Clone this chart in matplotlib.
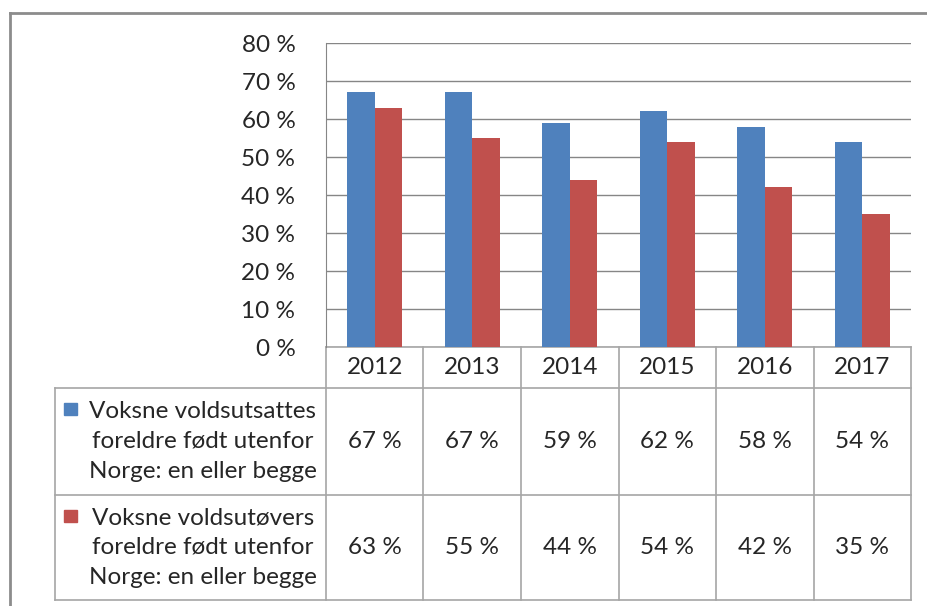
import matplotlib.pyplot as plt
import matplotlib.transforms as mtransforms
from matplotlib.patches import Rectangle

years = ["2012", "2013", "2014", "2015", "2016", "2017"]
utsatte = [67, 67, 59, 62, 58, 54]
utovere = [63, 55, 44, 54, 42, 35]
labels = ["Voksne voldsutsattes\nforeldre født utenfor\nNorge: en eller begge",
          "Voksne voldsutøvers\nforeldre født utenfor\nNorge: en eller begge"]
colors = ["#4F81BD", "#C0504D"]
yticks = [0, 10, 20, 30, 40, 50, 60, 70, 80]

plt.rcParams['font.family'] = ['Lato', 'DejaVu Sans']
txt = "#262626"
gridc = "#868686"
tabc = "#A6A6A6"
fs = 17.5

W, H = 928, 606
fig = plt.figure(figsize=(W / 100, H / 100), dpi=100)

# outer frame (cropped on right and bottom)
fig.add_artist(plt.Line2D([10 / W, 1], [1 - 13 / H, 1 - 13 / H], color="#8C8C8C", lw=2))
fig.add_artist(plt.Line2D([10 / W, 10 / W], [0, 1 - 13 / H], color="#8C8C8C", lw=2))

x0, x1, ytop, ybot = 326, 911, 43, 347
ax = fig.add_axes([x0 / W, 1 - ybot / H, (x1 - x0) / W, (ybot - ytop) / H])
ax.set_xlim(-0.5, len(years) - 0.5)
ax.set_ylim(0, 80)

bw = 0.28
xs = list(range(len(years)))
ax.bar([x - bw / 2 for x in xs], utsatte, bw, color=colors[0], zorder=3)
ax.bar([x + bw / 2 for x in xs], utovere, bw, color=colors[1], zorder=3)

ax.set_yticks(yticks)
ax.set_yticklabels([f"{v} %" for v in yticks], fontsize=fs, color=txt)
ax.tick_params(axis="y", length=0, pad=22)
ax.set_xticks([])
ax.yaxis.grid(True, color=gridc, lw=1, zorder=0)
for s in ["top", "right", "bottom"]:
    ax.spines[s].set_visible(False)
ax.spines["left"].set_color(gridc)

# data table below the axes: x in data units, y in axes fraction
ph = ybot - ytop
tr = mtransforms.blended_transform_factory(ax.transData, ax.transAxes)
r_head = -41 / ph
r_one = -148 / ph
r_two = -253 / ph
unit = (x1 - x0) / len(years)
xleft = -0.5 - (x0 - 55) / unit

def hline(y, xa, xb):
    ax.plot([xa, xb], [y, y], color=tabc, lw=1.2, transform=tr, clip_on=False)

def vline(x, ya, yb):
    ax.plot([x, x], [ya, yb], color=tabc, lw=1.2, transform=tr, clip_on=False)

hline(0, -0.5, len(years) - 0.5)
hline(r_head, xleft, len(years) - 0.5)
hline(r_one, xleft, len(years) - 0.5)
hline(r_two, xleft, len(years) - 0.5)
for i in range(len(years) + 1):
    vline(i - 0.5, 0, r_two)
vline(xleft, r_head, r_two)

for i, y in enumerate(years):
    ax.text(i, r_head / 2, y, ha="center", va="center", fontsize=fs, color=txt,
            transform=tr)
    ax.text(i, (r_head + r_one) / 2, f"{utsatte[i]} %", ha="center", va="center",
            fontsize=fs, color=txt, transform=tr)
    ax.text(i, (r_one + r_two) / 2, f"{utovere[i]} %", ha="center", va="center",
            fontsize=fs, color=txt, transform=tr)

lab_x = -0.5 - (x0 - 203) / unit
for k, (top, bot) in enumerate([(r_head, r_one), (r_one, r_two)]):
    ax.text(lab_x, (top + bot) / 2, labels[k], ha="center", va="center",
            fontsize=fs, color=txt, transform=tr, linespacing=1.5)
    sq_y = top - 21 / ph
    ax.add_patch(Rectangle((xleft + 9 / unit, sq_y - 6 / ph), 13 / unit, 12 / ph,
                           color=colors[k], transform=tr, clip_on=False))

fig.savefig("out.png", dpi=100)
